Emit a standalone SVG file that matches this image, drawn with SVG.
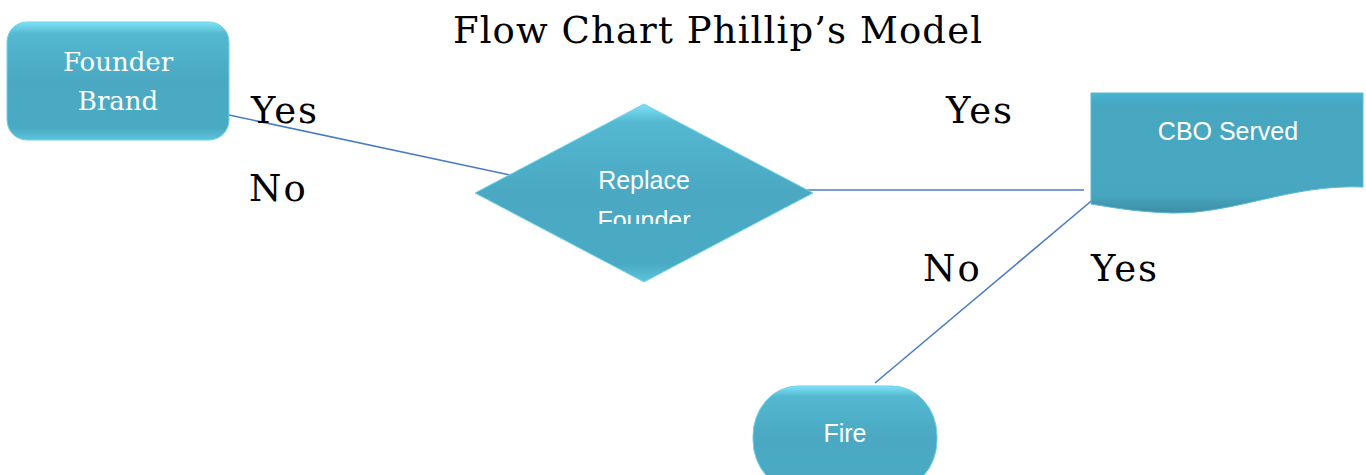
<svg xmlns="http://www.w3.org/2000/svg" width="1366" height="475" viewBox="0 0 1366 475">
<style>
.shape{fill:url(#g);stroke:#6fd3ea;stroke-width:1}
.lbl{font-family:"DejaVu Serif","Liberation Serif",serif;font-size:37px;letter-spacing:2px;fill:#000}
.st{font-family:"DejaVu Serif","Liberation Serif",serif;font-size:26px;fill:#fff;text-anchor:middle}
.ss{font-family:"Liberation Sans",Arial,sans-serif;font-size:25px;fill:#fff;text-anchor:middle}
.con{stroke:#4a7cc4;stroke-width:1.6;fill:none}
</style>
<defs>
<linearGradient id="g" x1="0" y1="0" x2="0" y2="1">
<stop offset="0" stop-color="#7fe3f7"/>
<stop offset="0.1" stop-color="#54b8d0"/>
<stop offset="0.5" stop-color="#4aa8c2"/>
<stop offset="0.9" stop-color="#4aaac4"/>
<stop offset="1" stop-color="#5ec4dc"/>
</linearGradient>
<linearGradient id="gd" x1="0" y1="0" x2="0" y2="1">
<stop offset="0" stop-color="#46b4d4"/>
<stop offset="0.1" stop-color="#47a7c1"/>
<stop offset="0.85" stop-color="#48a6c0"/>
<stop offset="1" stop-color="#3c8ea6"/>
</linearGradient>
<clipPath id="clipD"><rect x="470" y="100" width="350" height="124"/></clipPath>
</defs>
<rect width="1366" height="475" fill="#fff"/>
<text x="718" y="43" font-family="'DejaVu Serif','Liberation Serif',serif" font-size="37" letter-spacing="1.1" text-anchor="middle" fill="#000">Flow Chart Phillip’s Model</text>
<g id="connectors">
<line class="con" x1="229" y1="115" x2="510" y2="175"/>
<line class="con" x1="763" y1="190" x2="1084" y2="190"/>
<line class="con" x1="1102" y1="192" x2="875" y2="383"/>
</g>
<g id="founder-brand">
<rect class="shape" x="7" y="22" width="222" height="118" rx="20" ry="20"/>
<text class="st" x="118" y="71">Founder</text>
<text class="st" x="118" y="110">Brand</text>
</g>
<g id="replace-founder">
<polygon class="shape" points="644,104 813,193 644,282 475,193"/>
<g clip-path="url(#clipD)">
<text class="ss" x="644" y="189">Replace</text>
<text class="ss" x="644" y="229">Founder</text>
</g>
</g>
<g id="cbo-served">
<path d="M1091,93 H1363 V187 C1290,184 1235,214 1172,213 C1135,212 1110,207 1091,204 Z" fill="url(#gd)" stroke="#5ab9d2" stroke-width="1"/>
<text class="ss" x="1228" y="140">CBO Served</text>
</g>
<g id="fire">
<rect class="shape" x="753" y="386" width="184" height="104" rx="45" ry="50"/>
<text class="ss" x="845" y="442">Fire</text>
</g>
<g id="labels">
<text class="lbl" x="251" y="123">Yes</text>
<text class="lbl" x="249" y="201">No</text>
<text class="lbl" x="946" y="123">Yes</text>
<text class="lbl" x="923" y="281">No</text>
<text class="lbl" x="1091" y="281">Yes</text>
</g>
</svg>
